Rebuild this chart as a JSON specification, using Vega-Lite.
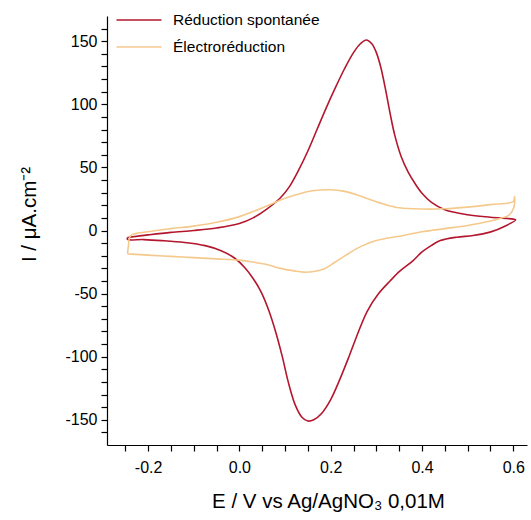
{
  "$schema": "https://vega.github.io/schema/vega-lite/v6.json",
  "width": 420,
  "height": 429,
  "autosize": {"type": "none"},
  "padding": {"left": 107, "top": 16, "right": 4, "bottom": 75},
  "background": "white",
  "config": {
    "view": {"stroke": null},
    "font": "Liberation Sans",
    "axis": {"grid": false, "domainColor": "#000", "tickColor": "#000", "labelColor": "#000", "titleColor": "#000", "labelFont": "Liberation Sans", "titleFont": "Liberation Sans", "labelFontSize": 16, "titleFontSize": 20.5, "titleFontWeight": "normal", "domainWidth": 1.2, "tickWidth": 1.2}
  },
  "data": {"values": [
    {"s": "Réduction spontanée", "o": 1, "E": -0.245, "I": -5.5},
    {"s": "Réduction spontanée", "o": 2, "E": -0.2, "I": -3.5},
    {"s": "Réduction spontanée", "o": 3, "E": -0.15, "I": -1.5},
    {"s": "Réduction spontanée", "o": 4, "E": -0.1, "I": 0},
    {"s": "Réduction spontanée", "o": 5, "E": -0.05, "I": 2},
    {"s": "Réduction spontanée", "o": 6, "E": 0.0, "I": 5.5},
    {"s": "Réduction spontanée", "o": 7, "E": 0.03, "I": 10},
    {"s": "Réduction spontanée", "o": 8, "E": 0.06, "I": 17},
    {"s": "Réduction spontanée", "o": 9, "E": 0.09, "I": 26},
    {"s": "Réduction spontanée", "o": 10, "E": 0.11, "I": 35},
    {"s": "Réduction spontanée", "o": 11, "E": 0.13, "I": 48},
    {"s": "Réduction spontanée", "o": 12, "E": 0.15, "I": 63},
    {"s": "Réduction spontanée", "o": 13, "E": 0.17, "I": 80},
    {"s": "Réduction spontanée", "o": 14, "E": 0.19, "I": 97},
    {"s": "Réduction spontanée", "o": 15, "E": 0.21, "I": 113},
    {"s": "Réduction spontanée", "o": 16, "E": 0.23, "I": 128},
    {"s": "Réduction spontanée", "o": 17, "E": 0.25, "I": 141},
    {"s": "Réduction spontanée", "o": 18, "E": 0.265, "I": 148},
    {"s": "Réduction spontanée", "o": 19, "E": 0.278, "I": 151},
    {"s": "Réduction spontanée", "o": 20, "E": 0.29, "I": 148},
    {"s": "Réduction spontanée", "o": 21, "E": 0.30, "I": 141},
    {"s": "Réduction spontanée", "o": 22, "E": 0.31, "I": 129},
    {"s": "Réduction spontanée", "o": 23, "E": 0.32, "I": 112},
    {"s": "Réduction spontanée", "o": 24, "E": 0.33, "I": 93},
    {"s": "Réduction spontanée", "o": 25, "E": 0.34, "I": 76},
    {"s": "Réduction spontanée", "o": 26, "E": 0.355, "I": 58},
    {"s": "Réduction spontanée", "o": 27, "E": 0.37, "I": 46},
    {"s": "Réduction spontanée", "o": 28, "E": 0.385, "I": 37},
    {"s": "Réduction spontanée", "o": 29, "E": 0.40, "I": 29.5},
    {"s": "Réduction spontanée", "o": 30, "E": 0.42, "I": 22.5},
    {"s": "Réduction spontanée", "o": 31, "E": 0.45, "I": 16.5},
    {"s": "Réduction spontanée", "o": 32, "E": 0.50, "I": 12.5},
    {"s": "Réduction spontanée", "o": 33, "E": 0.55, "I": 10.5},
    {"s": "Réduction spontanée", "o": 34, "E": 0.60, "I": 9},
    {"s": "Réduction spontanée", "o": 35, "E": 0.605, "I": 8.5},
    {"s": "Réduction spontanée", "o": 36, "E": 0.585, "I": 4},
    {"s": "Réduction spontanée", "o": 37, "E": 0.549, "I": -1.3},
    {"s": "Réduction spontanée", "o": 38, "E": 0.512, "I": -4},
    {"s": "Réduction spontanée", "o": 39, "E": 0.476, "I": -5.3},
    {"s": "Réduction spontanée", "o": 40, "E": 0.44, "I": -8},
    {"s": "Réduction spontanée", "o": 41, "E": 0.42, "I": -12},
    {"s": "Réduction spontanée", "o": 42, "E": 0.40, "I": -17},
    {"s": "Réduction spontanée", "o": 43, "E": 0.38, "I": -24},
    {"s": "Réduction spontanée", "o": 44, "E": 0.352, "I": -32},
    {"s": "Réduction spontanée", "o": 45, "E": 0.33, "I": -40},
    {"s": "Réduction spontanée", "o": 46, "E": 0.305, "I": -50},
    {"s": "Réduction spontanée", "o": 47, "E": 0.28, "I": -64},
    {"s": "Réduction spontanée", "o": 48, "E": 0.26, "I": -81},
    {"s": "Réduction spontanée", "o": 49, "E": 0.24, "I": -100},
    {"s": "Réduction spontanée", "o": 50, "E": 0.22, "I": -118},
    {"s": "Réduction spontanée", "o": 51, "E": 0.20, "I": -134},
    {"s": "Réduction spontanée", "o": 52, "E": 0.18, "I": -145},
    {"s": "Réduction spontanée", "o": 53, "E": 0.163, "I": -150},
    {"s": "Réduction spontanée", "o": 54, "E": 0.15, "I": -151},
    {"s": "Réduction spontanée", "o": 55, "E": 0.137, "I": -148},
    {"s": "Réduction spontanée", "o": 56, "E": 0.122, "I": -138},
    {"s": "Réduction spontanée", "o": 57, "E": 0.107, "I": -120},
    {"s": "Réduction spontanée", "o": 58, "E": 0.094, "I": -100},
    {"s": "Réduction spontanée", "o": 59, "E": 0.08, "I": -81},
    {"s": "Réduction spontanée", "o": 60, "E": 0.065, "I": -64},
    {"s": "Réduction spontanée", "o": 61, "E": 0.048, "I": -49},
    {"s": "Réduction spontanée", "o": 62, "E": 0.03, "I": -38},
    {"s": "Réduction spontanée", "o": 63, "E": 0.012, "I": -29.5},
    {"s": "Réduction spontanée", "o": 64, "E": -0.01, "I": -22},
    {"s": "Réduction spontanée", "o": 65, "E": -0.04, "I": -16},
    {"s": "Réduction spontanée", "o": 66, "E": -0.075, "I": -12},
    {"s": "Réduction spontanée", "o": 67, "E": -0.12, "I": -9.5},
    {"s": "Réduction spontanée", "o": 68, "E": -0.17, "I": -8},
    {"s": "Réduction spontanée", "o": 69, "E": -0.21, "I": -7.2},
    {"s": "Réduction spontanée", "o": 70, "E": -0.245, "I": -7},
    {"s": "Réduction spontanée", "o": 71, "E": -0.245, "I": -5.5},
    {"s": "Électroréduction", "o": 1, "E": -0.245, "I": -18.5},
    {"s": "Électroréduction", "o": 2, "E": -0.243, "I": -12},
    {"s": "Électroréduction", "o": 3, "E": -0.238, "I": -4},
    {"s": "Électroréduction", "o": 4, "E": -0.2, "I": -1},
    {"s": "Électroréduction", "o": 5, "E": -0.15, "I": 1.5},
    {"s": "Électroréduction", "o": 6, "E": -0.1, "I": 3.5},
    {"s": "Électroréduction", "o": 7, "E": -0.05, "I": 6.5},
    {"s": "Électroréduction", "o": 8, "E": 0.0, "I": 11},
    {"s": "Électroréduction", "o": 9, "E": 0.03, "I": 15},
    {"s": "Électroréduction", "o": 10, "E": 0.06, "I": 19.5},
    {"s": "Électroréduction", "o": 11, "E": 0.1, "I": 25.5},
    {"s": "Électroréduction", "o": 12, "E": 0.13, "I": 29},
    {"s": "Électroréduction", "o": 13, "E": 0.16, "I": 31.5},
    {"s": "Électroréduction", "o": 14, "E": 0.2, "I": 32.3},
    {"s": "Électroréduction", "o": 15, "E": 0.23, "I": 31},
    {"s": "Électroréduction", "o": 16, "E": 0.26, "I": 28},
    {"s": "Électroréduction", "o": 17, "E": 0.29, "I": 24},
    {"s": "Électroréduction", "o": 18, "E": 0.32, "I": 20.5},
    {"s": "Électroréduction", "o": 19, "E": 0.35, "I": 18},
    {"s": "Électroréduction", "o": 20, "E": 0.4, "I": 17},
    {"s": "Électroréduction", "o": 21, "E": 0.45, "I": 17.2},
    {"s": "Électroréduction", "o": 22, "E": 0.5, "I": 18.5},
    {"s": "Électroréduction", "o": 23, "E": 0.55, "I": 20.5},
    {"s": "Électroréduction", "o": 24, "E": 0.6, "I": 23},
    {"s": "Électroréduction", "o": 25, "E": 0.603, "I": 27},
    {"s": "Électroréduction", "o": 26, "E": 0.601, "I": 18},
    {"s": "Électroréduction", "o": 27, "E": 0.59, "I": 12},
    {"s": "Électroréduction", "o": 28, "E": 0.57, "I": 9.5},
    {"s": "Électroréduction", "o": 29, "E": 0.55, "I": 7.5},
    {"s": "Électroréduction", "o": 30, "E": 0.5, "I": 4},
    {"s": "Électroréduction", "o": 31, "E": 0.45, "I": 1.5},
    {"s": "Électroréduction", "o": 32, "E": 0.4, "I": -1},
    {"s": "Électroréduction", "o": 33, "E": 0.35, "I": -4.5},
    {"s": "Électroréduction", "o": 34, "E": 0.3, "I": -8},
    {"s": "Électroréduction", "o": 35, "E": 0.27, "I": -12},
    {"s": "Électroréduction", "o": 36, "E": 0.24, "I": -18},
    {"s": "Électroréduction", "o": 37, "E": 0.21, "I": -25},
    {"s": "Électroréduction", "o": 38, "E": 0.185, "I": -30.5},
    {"s": "Électroréduction", "o": 39, "E": 0.16, "I": -32.7},
    {"s": "Électroréduction", "o": 40, "E": 0.14, "I": -33},
    {"s": "Électroréduction", "o": 41, "E": 0.12, "I": -32},
    {"s": "Électroréduction", "o": 42, "E": 0.09, "I": -30},
    {"s": "Électroréduction", "o": 43, "E": 0.06, "I": -27},
    {"s": "Électroréduction", "o": 44, "E": 0.03, "I": -25},
    {"s": "Électroréduction", "o": 45, "E": 0.0, "I": -23.5},
    {"s": "Électroréduction", "o": 46, "E": -0.05, "I": -22.5},
    {"s": "Électroréduction", "o": 47, "E": -0.1, "I": -21.5},
    {"s": "Électroréduction", "o": 48, "E": -0.15, "I": -20.5},
    {"s": "Électroréduction", "o": 49, "E": -0.2, "I": -19.5},
    {"s": "Électroréduction", "o": 50, "E": -0.245, "I": -18.5}
  ]},
  "mark": {"type": "line", "strokeWidth": 1.6, "interpolate": "catmull-rom", "clip": true},
  "encoding": {
    "x": {"field": "E", "type": "quantitative",
      "scale": {"domain": [-0.29, 0.63], "nice": false, "zero": false},
      "axis": {"orient": "bottom", "title": "E / V vs Ag/AgNO₃ 0,01M", "values": [-0.25, -0.2, -0.15, -0.1, -0.05, 0, 0.05, 0.1, 0.15, 0.2, 0.25, 0.3, 0.35, 0.4, 0.45, 0.5, 0.55, 0.6],
        "labelExpr": "(abs(datum.value*10 - round(datum.value*10)) < 0.001 && round(datum.value*10) % 2 == 0) ? replace(format(datum.value, '.1f'), '−', '-') : ''",
        "ticks": true, "tickSize": 6, "labelPadding": 8, "titleY": 46, "titleX": 221, "titleAlign": "center"}},
    "y": {"field": "I", "type": "quantitative",
      "scale": {"domain": [-170, 170], "nice": false, "zero": false},
      "axis": {"orient": "left", "title": "I / μA.cm⁻²", "values": [-160, -150, -140, -130, -120, -110, -100, -90, -80, -70, -60, -50, -40, -30, -20, -10, 0, 10, 20, 30, 40, 50, 60, 70, 80, 90, 100, 110, 120, 130, 140, 150, 160],
        "labelExpr": "datum.value % 50 == 0 ? '' + datum.value : ''",
        "ticks": true, "tickSize": 6, "labelPadding": 4, "titleX": -68, "titleY": 198}},
    "order": {"field": "o", "type": "quantitative"},
    "color": {"field": "s", "type": "nominal",
      "scale": {"domain": ["Réduction spontanée", "Électroréduction"], "range": ["#B3172E", "#F5C98C"]},
      "legend": {"title": null, "orient": "none", "legendX": 22, "legendY": -6, "symbolType": "M-2.5,0H2.5", "symbolSize": 324, "symbolStrokeWidth": 1.6, "labelFontSize": 15.5, "labelColor": "#000", "labelFont": "Liberation Sans", "rowPadding": 8, "labelOffset": 24}
    }
  }
}
